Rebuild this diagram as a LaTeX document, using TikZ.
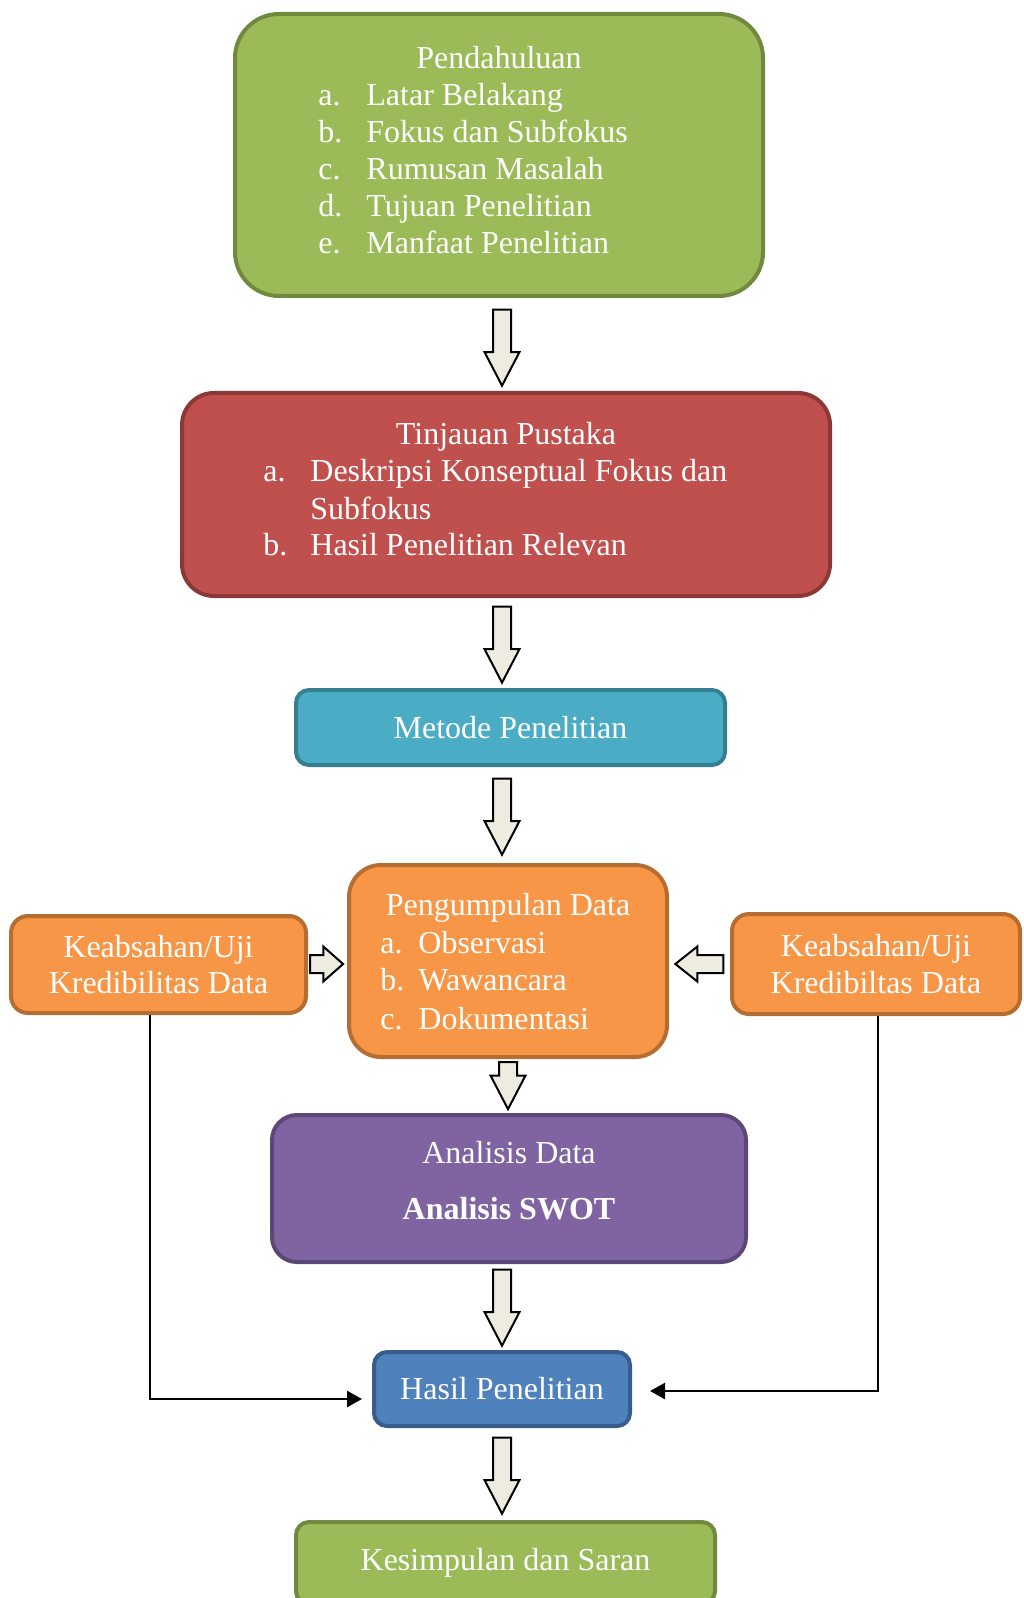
\documentclass[tikz,border=0pt]{standalone}
\usepackage{fontspec}
\setmainfont{Liberation Serif}
\usetikzlibrary{shapes.arrows, arrows.meta}
\definecolor{greenfill}{HTML}{9BBB59}
\definecolor{greenline}{HTML}{71893F}
\definecolor{redfill}{HTML}{C0504D}
\definecolor{redline}{HTML}{8C3836}
\definecolor{tealfill}{HTML}{4BACC6}
\definecolor{tealline}{HTML}{357F93}
\definecolor{orangefill}{HTML}{F79646}
\definecolor{orangeline}{HTML}{B66D31}
\definecolor{purplefill}{HTML}{8064A2}
\definecolor{purpleline}{HTML}{5C4776}
\definecolor{bluefill}{HTML}{4F81BD}
\definecolor{blueline}{HTML}{385D8A}
\definecolor{arrowfill}{HTML}{EEECE1}
\newcommand{\boxfont}{\fontsize{16}{18.4}\selectfont}

\begin{document}
\begin{tikzpicture}[x=0.5pt, y=-0.5pt,
    box/.style={draw, line width=2pt, text=white, inner sep=0pt, align=center, font=\boxfont},
    txt/.style={text=white, inner sep=0pt, font=\boxfont},
    blockarrow/.style={single arrow, draw=black, fill=arrowfill, line width=1pt, inner sep=4pt, single arrow head extend=4.25pt},
    conn/.style={line width=1.2pt, -{Triangle[length=7.5pt, width=8pt]}}]
    \useasboundingbox (0,0) rectangle (1023,1598);

    % Pendahuluan
    \node[box, fill=greenfill, draw=greenline, rounded corners=22pt, minimum width=264pt, minimum height=141pt] (pend) at (499,155) {};
    \node[txt, anchor=base] (pendt) at (499,69) {Pendahuluan};
    \node[txt, anchor=base west] (pa) at (318,106) {a.};
    \node[txt, anchor=base west] (pat) at (366,106) {Latar Belakang};
    \node[txt, anchor=base west] (pb) at (318,143) {b.};
    \node[txt, anchor=base west] (pbt) at (366,143) {Fokus dan Subfokus};
    \node[txt, anchor=base west] (pc) at (318,180) {c.};
    \node[txt, anchor=base west] (pct) at (366,180) {Rumusan Masalah};
    \node[txt, anchor=base west] (pd) at (318,217) {d.};
    \node[txt, anchor=base west] (pdt) at (366,217) {Tujuan Penelitian};
    \node[txt, anchor=base west] (pe) at (318,254) {e.};
    \node[txt, anchor=base west] (pet) at (366,254) {Manfaat Penelitian};

    % Tinjauan Pustaka
    \node[box, fill=redfill, draw=redline, rounded corners=16pt, minimum width=324pt, minimum height=101.5pt] (tinj) at (506,494.5) {};
    \node[txt, anchor=base] (tinjt) at (506,445) {Tinjauan Pustaka};
    \node[txt, anchor=base west] (ta) at (263,482) {a.};
    \node[txt, anchor=base west] (tat) at (310,482) {Deskripsi Konseptual Fokus dan};
    \node[txt, anchor=base west] (tat2) at (310,519) {Subfokus};
    \node[txt, anchor=base west] (tb) at (263,555) {b.};
    \node[txt, anchor=base west] (tbt) at (310,555) {Hasil Penelitian Relevan};

    % Metode Penelitian
    \node[box, fill=tealfill, draw=tealline, rounded corners=6.5pt, minimum width=214.5pt, minimum height=37.5pt] (metode) at (510.5,727.5) {Metode Penelitian};

    % Pengumpulan Data
    \node[box, fill=orangefill, draw=orangeline, rounded corners=16pt, minimum width=159pt, minimum height=96pt] (kumpul) at (508,961) {};
    \node[txt, anchor=base] (kumpult) at (508,915) {Pengumpulan Data};
    \node[txt, anchor=base west] (ka) at (380,953) {a.};
    \node[txt, anchor=base west] (kat) at (418,953) {Observasi};
    \node[txt, anchor=base west] (kb) at (380,990) {b.};
    \node[txt, anchor=base west] (kbt) at (418,990) {Wawancara};
    \node[txt, anchor=base west] (kc) at (380,1029) {c.};
    \node[txt, anchor=base west] (kct) at (418,1029) {Dokumentasi};

    % Keabsahan (left and right)
    \node[box, fill=orangefill, draw=orangeline, rounded corners=8.5pt, minimum width=147.5pt, minimum height=48.5pt] (keabL) at (158.5,964.5) {Keabsahan/Uji\\Kredibilitas Data};
    \node[box, fill=orangefill, draw=orangeline, rounded corners=8.5pt, minimum width=144pt, minimum height=50pt] (keabR) at (876,964) {Keabsahan/Uji\\Kredibiltas Data};

    % Analisis Data
    \node[box, fill=purplefill, draw=purpleline, rounded corners=12.5pt, minimum width=237pt, minimum height=73.5pt] (analisis) at (509,1188.5) {};
    \node[txt, anchor=base] (analisist) at (509,1163) {Analisis Data};
    \node[txt, anchor=base, font=\boxfont\bfseries] (swot) at (509,1219) {Analisis SWOT};

    % Hasil and Kesimpulan
    \node[box, fill=bluefill, draw=blueline, rounded corners=6.5pt, minimum width=128pt, minimum height=37pt] (hasil) at (502,1389) {Hasil Penelitian};
    \node[box, fill=greenfill, draw=greenline, rounded corners=6.5pt, minimum width=209.5pt, minimum height=41pt] (simpul) at (505.5,1563) {Kesimpulan dan Saran};

    % Block arrows
    \node[blockarrow, shape border rotate=270, single arrow tip angle=55, minimum height=38pt] (ar1) at (502,339) {};
    \node[blockarrow, shape border rotate=270, single arrow tip angle=55, minimum height=38pt] (ar2) at (502,636) {};
    \node[blockarrow, shape border rotate=270, single arrow tip angle=55, minimum height=38pt] (ar3) at (502,808) {};
    \node[blockarrow, shape border rotate=270, single arrow tip angle=55, minimum height=23.5pt] (ar4) at (508,1077) {};
    \node[blockarrow, shape border rotate=270, single arrow tip angle=55, minimum height=38pt] (ar5) at (502,1299) {};
    \node[blockarrow, shape border rotate=270, single arrow tip angle=55, minimum height=38pt] (ar6) at (502,1467) {};
    \node[blockarrow, single arrow tip angle=83, minimum height=16.5pt] (arL) at (321.5,964) {};
    \node[blockarrow, shape border rotate=180, single arrow tip angle=77, minimum height=24pt] (arR) at (705,964) {};

    % Lines to Hasil Penelitian
    \draw[conn] ([xshift=-4.25pt]keabL.south) |- ([xshift=-5pt, yshift=-5pt]hasil.west);
    \draw[conn] ([xshift=1pt]keabR.south) |- ([xshift=9pt, yshift=-1pt]hasil.east);
\end{tikzpicture}
\end{document}
